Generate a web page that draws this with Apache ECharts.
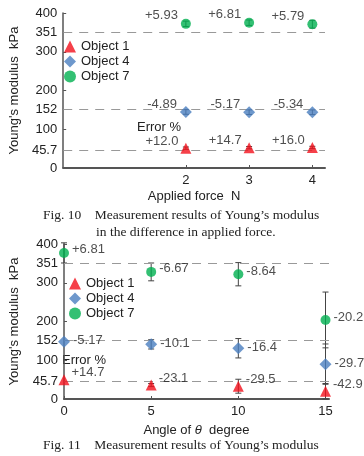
<!DOCTYPE html>
<html>
<head>
<meta charset="utf-8">
<script src="https://cdn.jsdelivr.net/npm/echarts@6/dist/echarts.min.js"></script>
<style>
  html, body { margin: 0; padding: 0; background: #fff; }
  #main { width: 364px; height: 456px; }
</style>
</head>
<body>
<div id="main"></div>
<script>
// reference values (dashed lines + y labels)
var refValues = [45.7, 152, 351];
var yTicks = [0, 45.7, 100, 152, 200, 300, 351, 400];

// Fig. 10 : applied force
var forceX = [2, 3, 4];
var force1 = [51.2, 52.4, 53.0];
var force1Err = [3, 3, 3];
var force4 = [144.6, 144.1, 143.9];
var force4Err = [6, 6, 6];
var force7 = [372, 375, 371];
var force7Err = [7, 7, 10];
var force1Lbl = ['+12.0', '+14.7', '+16.0'];
var force4Lbl = ['-4.89', '-5.17', '-5.34'];
var force7Lbl = ['+5.93', '+6.81', '+5.79'];

// Fig. 11 : angle of theta
var angleX = [0, 5, 10, 15];
var angle1 = [50, 36, 33, 20];
var angle1Err = [0, 4, 18, 20];
var angle4 = [148, 141, 131, 90];
var angle4Err = [0, 12, 25, 52];
var angle7 = [377, 328, 322, 204];
var angle7Err = [26, 23, 30, 72];
var angle1Lbl = ['+14.7', '-23.1', '-29.5', '-42.9'];
var angle4Lbl = ['-5.17', '-10.1', '-16.4', '-29.7'];
var angle7Lbl = ['+6.81', '-6.67', '-8.64', '-20.2'];

var RED = '#f2101c', BLUE = '#4a7ebf', GREEN = '#00b050';
var FONT = '"Liberation Sans", Arial, sans-serif';
var SERIF = '"Liberation Serif", "Times New Roman", serif';

var chart = echarts.init(document.getElementById('main'));

function renderErr(params, api) {
  var x = api.value(0);
  var lo = api.coord([x, api.value(1)]);
  var hi = api.coord([x, api.value(2)]);
  if (Math.abs(lo[1] - hi[1]) < 1) return null;
  var w = 3, st = { stroke: '#444', lineWidth: 1 };
  return {
    type: 'group',
    children: [
      { type: 'line', shape: { x1: lo[0], y1: lo[1], x2: hi[0], y2: hi[1] }, style: st },
      { type: 'line', shape: { x1: lo[0] - w, y1: lo[1], x2: lo[0] + w, y2: lo[1] }, style: st },
      { type: 'line', shape: { x1: hi[0] - w, y1: hi[1], x2: hi[0] + w, y2: hi[1] }, style: st }
    ]
  };
}

function errSeries(xs, ys, es, idx) {
  return {
    type: 'custom', xAxisIndex: idx, yAxisIndex: idx, z: 3,
    renderItem: renderErr, silent: true,
    data: xs.map(function (x, i) { return [x, ys[i] - es[i], ys[i] + es[i]]; })
  };
}

function ptSeries(name, xs, ys, lbls, idx, sym, size, color, pos, offset) {
  return {
    name: name, type: 'scatter', xAxisIndex: idx, yAxisIndex: idx, z: 5,
    symbol: sym, symbolSize: size, clip: false,
    itemStyle: { color: color },
    label: {
      show: true, position: pos, distance: 3, offset: offset,
      fontFamily: FONT, fontSize: 13, color: '#222',
      formatter: function (p) { return lbls[p.dataIndex]; }
    },
    data: xs.map(function (x, i) { return [x, ys[i]]; })
  };
}

function refLines(idx) {
  return {
    type: 'line', xAxisIndex: idx, yAxisIndex: idx, data: [], silent: true,
    markLine: {
      symbol: 'none', silent: true, label: { show: false },
      lineStyle: { type: [9, 7], color: '#999', width: 1.2 },
      data: refValues.map(function (v) { return { yAxis: v }; })
    }
  };
}

function yAxisCfg(idx, gap) {
  return {
    gridIndex: idx, type: 'value', min: 0, max: 400,
    name: "Young's modulus  kPa", nameLocation: 'middle', nameGap: gap,
    nameTextStyle: { fontFamily: FONT, fontSize: 13, color: '#222' },
    axisLine: { show: true, lineStyle: { color: '#555', width: 1.5 } },
    axisTick: { show: true, inside: true, length: 3, customValues: yTicks, lineStyle: { color: '#555' } },
    axisLabel: { customValues: yTicks, fontFamily: FONT, fontSize: 13, color: '#222', margin: 6 },
    splitLine: { show: false }
  };
}

function xAxisCfg(idx, min, max, ticks, name, gap) {
  return {
    gridIndex: idx, type: 'value', min: min, max: max,
    name: name, nameLocation: 'middle', nameGap: gap,
    nameTextStyle: {
      fontFamily: FONT, fontSize: 13, color: '#222',
      rich: { i: { fontFamily: FONT, fontSize: 13, fontStyle: 'italic', color: '#222' } }
    },
    axisLine: { show: true, onZero: false, lineStyle: { color: '#555', width: 2 } },
    axisTick: { show: true, inside: true, length: 3, customValues: ticks, lineStyle: { color: '#555' } },
    axisLabel: { customValues: ticks, fontFamily: FONT, fontSize: 13, color: '#222', margin: 6 },
    splitLine: { show: false }
  };
}

function legendCfg(left, top) {
  return {
    orient: 'vertical', left: left, top: top, padding: 0,
    itemWidth: 12, itemHeight: 12,
    itemGap: 2, itemTextGap: 2, selectedMode: false,
    textStyle: { fontFamily: FONT, fontSize: 13, color: '#222' },
    data: ['Object 1', 'Object 4', 'Object 7']
  };
}

var option = {
  animation: false,
  grid: [
    { left: 54, top: 13, width: 271, height: 155 },
    { left: 58, top: 244, width: 271, height: 155 }
  ],
  xAxis: [
    xAxisCfg(0, 0.06, 4.2, forceX, 'Applied force  N', 22),
    xAxisCfg(1, 0, 15.2, angleX, 'Angle of {i|θ}  degree', 25)
  ],
  yAxis: [yAxisCfg(0, 41), yAxisCfg(1, 43)],
  legend: [legendCfg(64, 40), legendCfg(69, 277)],
  graphic: [
    { type: 'text', left: 137, top: 121, style: { text: 'Error %', font: '13px ' + FONT, fill: '#222' } },
    { type: 'text', left: 62, top: 354, style: { text: 'Error %', font: '13px ' + FONT, fill: '#222' } },
    { type: 'text', left: 43, top: 208, style: { text: "Fig. 10    Measurement results of Young\u2019s modulus", font: '13.5px ' + SERIF, fill: '#222' } },
    { type: 'text', left: 96, top: 225, style: { text: 'in the difference in applied force.', font: '13.5px ' + SERIF, fill: '#222' } },
    { type: 'text', left: 43, top: 438, style: { text: "Fig. 11    Measurement results of Young\u2019s modulus", font: '13.5px ' + SERIF, fill: '#222' } }
  ],
  series: [
    refLines(0),
    refLines(1),
    errSeries(forceX, force1, force1Err, 0),
    errSeries(forceX, force4, force4Err, 0),
    errSeries(forceX, force7, force7Err, 0),
    errSeries(angleX, angle1, angle1Err, 1),
    errSeries(angleX, angle4, angle4Err, 1),
    errSeries(angleX, angle7, angle7Err, 1),
    ptSeries('Object 1', forceX, force1, force1Lbl, 0, 'triangle', 11, RED, 'left', [1, -7]),
    ptSeries('Object 4', forceX, force4, force4Lbl, 0, 'diamond', 12, BLUE, 'left', [0, -8]),
    ptSeries('Object 7', forceX, force7, force7Lbl, 0, 'circle', 10, GREEN, 'left', [0, -8]),
    ptSeries('Object 1', angleX, angle1, angle1Lbl, 1, 'triangle', 11, RED, 'right', [-1, -7]),
    ptSeries('Object 4', angleX, angle4, angle4Lbl, 1, 'diamond', 12, BLUE, 'right', [0, -1]),
    ptSeries('Object 7', angleX, angle7, angle7Lbl, 1, 'circle', 10, GREEN, 'right', [0, -3])
  ]
};

chart.setOption(option);
</script>
</body>
</html>
